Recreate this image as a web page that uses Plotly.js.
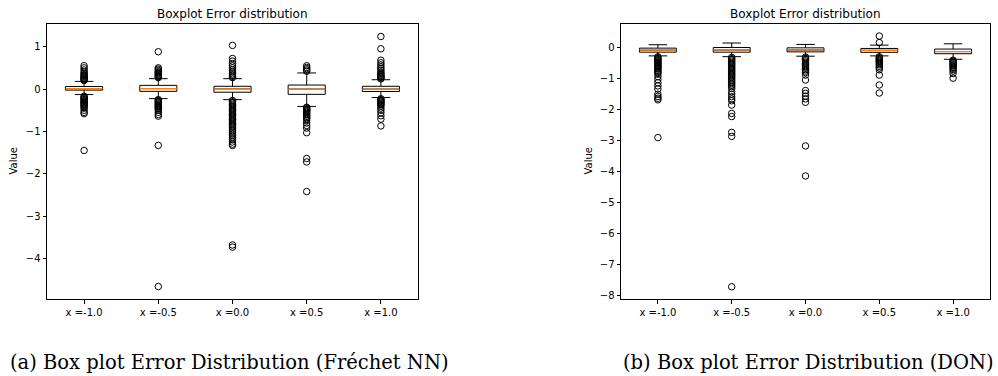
<!DOCTYPE html>
<html>
<head>
<meta charset="utf-8">
<script src="https://cdn.plot.ly/plotly-3.0.1.min.js"></script>
<style>html,body{margin:0;padding:0;background:#fff;}#chart{width:998px;height:376px;}</style>
</head>
<body>
<div id="chart"></div>
<script>
const categories = ['x =-1.0', 'x =-0.5', 'x =0.0', 'x =0.5', 'x =1.0'];

// (a) Fréchet NN
const frechetQ1 = [-0.025, -0.054, -0.075, -0.125, -0.058];
const frechetMedian = [0.01, 0.01, 0.005, 0.0, 0.0];
const frechetQ3 = [0.06, 0.087, 0.065, 0.095, 0.065];
const frechetLowerWhisker = [-0.13, -0.226, -0.25, -0.41, -0.20];
const frechetUpperWhisker = [0.18, 0.245, 0.245, 0.38, 0.22];
const frechetOutliers = [
  [0.20,0.22,0.24,0.26,0.28,0.30,0.32,0.34,0.37,0.40,0.45,0.50,0.55,
   -0.17,-0.19,-0.21,-0.23,-0.25,-0.27,-0.29,-0.31,-0.33,-0.35,-0.37,-0.39,-0.42,-0.45,-0.50,-0.55,-0.58,-1.45],
  [0.27,0.29,0.31,0.33,0.35,0.37,0.39,0.41,0.44,0.47,0.50,0.88,
   -0.25,-0.27,-0.29,-0.31,-0.33,-0.35,-0.37,-0.39,-0.41,-0.43,-0.45,-0.47,-0.50,-0.55,-0.60,-0.64,-1.33,-4.66],
  [0.27,0.30,0.33,0.36,0.40,0.45,0.50,0.55,0.60,0.66,0.72,1.03,
   -0.27,-0.30,-0.33,-0.36,-0.39,-0.42,-0.45,-0.48,-0.51,-0.54,-0.57,-0.60,-0.63,-0.66,-0.69,-0.72,-0.75,-0.78,
   -0.81,-0.84,-0.87,-0.90,-0.94,-0.98,-1.02,-1.06,-1.10,-1.15,-1.20,-1.25,-1.30,-1.33,-3.68,-3.73],
  [0.42,0.45,0.48,0.51,0.55,
   -0.43,-0.45,-0.47,-0.49,-0.51,-0.53,-0.55,-0.58,-0.61,-0.64,-0.67,-0.70,-0.74,-0.80,-0.86,-0.92,-1.03,-1.64,-1.72,-2.42],
  [0.24,0.26,0.28,0.30,0.32,0.34,0.37,0.40,0.44,0.48,0.52,0.57,0.62,0.68,0.95,1.24,
   -0.23,-0.25,-0.27,-0.29,-0.31,-0.33,-0.35,-0.37,-0.40,-0.45,-0.50,-0.56,-0.63,-0.71,-0.87]
];
const frechetYTicks = [1, 0, -1, -2, -3, -4];
const frechetYTickText = ['1', '0', '\u22121', '\u22122', '\u22123', '\u22124'];

// (b) DON
const donQ1 = [-0.14, -0.14, -0.13, -0.145, -0.19];
const donMedian = [-0.075, -0.07, -0.07, -0.08, -0.12];
const donQ3 = [-0.01, 0.01, 0.0, -0.02, -0.04];
const donLowerWhisker = [-0.26, -0.285, -0.27, -0.26, -0.37];
const donUpperWhisker = [0.10, 0.155, 0.11, 0.087, 0.13];
const donOutliers = [
  [-0.29,-0.32,-0.35,-0.38,-0.41,-0.44,-0.47,-0.50,-0.53,-0.56,-0.59,-0.62,-0.65,-0.68,-0.72,-0.76,-0.80,-0.85,
   -0.93,-1.03,-1.13,-1.23,-1.33,-1.50,-1.57,-1.63,-1.68,-2.90],
  [-0.31,-0.35,-0.39,-0.43,-0.47,-0.51,-0.55,-0.59,-0.63,-0.67,-0.71,-0.75,-0.79,-0.83,-0.87,-0.91,-0.95,-1.00,
   -1.05,-1.10,-1.15,-1.20,-1.25,-1.31,-1.42,-1.50,-1.58,-1.65,-1.71,-1.85,-2.12,-2.22,-2.73,-2.86,-7.72],
  [-0.30,-0.34,-0.38,-0.42,-0.46,-0.50,-0.54,-0.58,-0.62,-0.66,-0.70,-0.75,-0.80,-0.88,-1.04,-1.38,-1.47,-1.56,
   -1.65,-1.76,-3.17,-4.14],
  [0.17,0.38,
   -0.29,-0.32,-0.35,-0.38,-0.41,-0.44,-0.47,-0.51,-0.55,-0.60,-0.65,-0.71,-0.88,-1.20,-1.46],
  [-0.40,-0.43,-0.46,-0.49,-0.52,-0.55,-0.58,-0.62,-0.66,-0.70,-0.75,-0.83,-0.98]
];
const donYTicks = [0, -1, -2, -3, -4, -5, -6, -7, -8];
const donYTickText = ['0', '\u22121', '\u22122', '\u22123', '\u22124', '\u22125', '\u22126', '\u22127', '\u22128'];

const plotTitle = 'Boxplot Error distribution';
const yLabel = 'Value';
const captionA = '(a) Box plot Error Distribution (Fréchet NN)';
const captionB = '(b) Box plot Error Distribution (DON)';

function panelTraces(q1, med, q3, lw, uw, outliers, xa, ya) {
  const traces = [];
  const ox = [], oy = [];
  outliers.forEach((arr, i) => arr.forEach(v => { ox.push(categories[i]); oy.push(v); }));
  traces.push({
    type: 'scatter', mode: 'markers', x: ox, y: oy, xaxis: xa, yaxis: ya,
    marker: {symbol: 'circle-open', size: 6.5, color: '#000', line: {width: 1, color: '#000'}},
    hoverinfo: 'skip'
  });
  traces.push({
    type: 'box', x: categories, q1: q1, median: med, q3: q3, lowerfence: lw, upperfence: uw,
    width: 0.5, whiskerwidth: 0.5, boxpoints: false, xaxis: xa, yaxis: ya,
    line: {color: '#000', width: 1}, fillcolor: 'rgba(0,0,0,0)', hoverinfo: 'skip'
  });
  traces.push({
    type: 'box', x: categories, q1: med, median: med, q3: med, lowerfence: med, upperfence: med,
    width: 0.5, whiskerwidth: 0, boxpoints: false, xaxis: xa, yaxis: ya,
    line: {color: '#ff7f0e', width: 1.2}, fillcolor: 'rgba(0,0,0,0)', hoverinfo: 'skip'
  });
  return traces;
}

const data = [].concat(
  panelTraces(frechetQ1, frechetMedian, frechetQ3, frechetLowerWhisker, frechetUpperWhisker, frechetOutliers, 'x', 'y'),
  panelTraces(donQ1, donMedian, donQ3, donLowerWhisker, donUpperWhisker, donOutliers, 'x2', 'y2')
);

const W = 998, H = 376;
const tickFont = {family: 'DejaVu Sans', size: 10, color: '#000'};
function xAxis(d, anchor) {
  return {domain: d, anchor: anchor, type: 'category', range: [-0.5, 4.5], showgrid: false, zeroline: false,
    showline: true, mirror: true, linecolor: '#000', linewidth: 1, ticks: 'outside', ticklen: 3.5,
    tickcolor: '#000', tickwidth: 1, tickfont: tickFont, fixedrange: true};
}
function yAxis(d, anchor, range, tv, tt) {
  return {domain: d, anchor: anchor, range: range, tickvals: tv, ticktext: tt, showgrid: false, zeroline: false,
    showline: true, mirror: true, linecolor: '#000', linewidth: 1, ticks: 'outside', ticklen: 3.5,
    tickcolor: '#000', tickwidth: 1, tickfont: tickFont, fixedrange: true};
}
const yDom = [1 - 299 / H, 1 - 24 / H];
const xDomA = [47 / W, 418 / W];
const xDomB = [621 / W, 990 / W];
const captionFont = {family: 'DejaVu Serif', size: 19.5, color: '#000'};

const layout = {
  width: W, height: H, margin: {l: 0, r: 0, t: 0, b: 0},
  paper_bgcolor: '#fff', plot_bgcolor: '#fff', showlegend: false, boxmode: 'overlay',
  xaxis: xAxis(xDomA, 'y'),
  yaxis: yAxis(yDom, 'x', [-4.955, 1.535], frechetYTicks, frechetYTickText),
  xaxis2: xAxis(xDomB, 'y2'),
  yaxis2: yAxis(yDom, 'x2', [-8.115, 0.77], donYTicks, donYTickText),
  annotations: [
    {text: plotTitle, xref: 'paper', yref: 'paper', x: (xDomA[0] + xDomA[1]) / 2, y: 1 - 13.5 / H,
     xanchor: 'center', yanchor: 'middle', showarrow: false, font: {family: 'DejaVu Sans', size: 12, color: '#000'}},
    {text: plotTitle, xref: 'paper', yref: 'paper', x: (xDomB[0] + xDomB[1]) / 2, y: 1 - 13.5 / H,
     xanchor: 'center', yanchor: 'middle', showarrow: false, font: {family: 'DejaVu Sans', size: 12, color: '#000'}},
    {text: yLabel, xref: 'paper', yref: 'paper', x: 13 / W, y: (yDom[0] + yDom[1]) / 2, textangle: -90,
     xanchor: 'center', yanchor: 'middle', showarrow: false, font: {family: 'DejaVu Sans', size: 10, color: '#000'}},
    {text: yLabel, xref: 'paper', yref: 'paper', x: 588 / W, y: (yDom[0] + yDom[1]) / 2, textangle: -90,
     xanchor: 'center', yanchor: 'middle', showarrow: false, font: {family: 'DejaVu Sans', size: 10, color: '#000'}},
    {text: captionA, xref: 'paper', yref: 'paper', x: 229 / W, y: 1 - 362 / H,
     xanchor: 'center', yanchor: 'middle', showarrow: false, font: captionFont},
    {text: captionB, xref: 'paper', yref: 'paper', x: 808 / W, y: 1 - 362 / H,
     xanchor: 'center', yanchor: 'middle', showarrow: false, font: captionFont}
  ]
};

Plotly.newPlot('chart', data, layout, {staticPlot: true, displayModeBar: false});
</script>
</body>
</html>
